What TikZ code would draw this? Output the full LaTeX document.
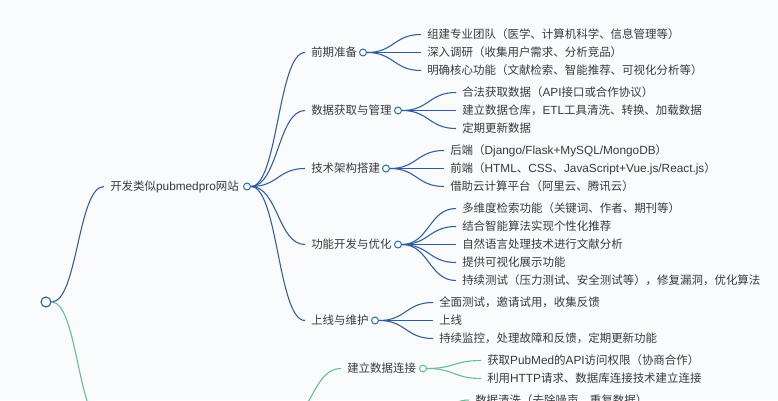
\documentclass[tikz,border=0pt]{standalone}
\usepackage{fontspec}
\usetikzlibrary{calc}
\setmainfont{Noto Sans CJK SC}
\newfontfamily\latfont[Scale=1.03]{Liberation Sans}
\newcommand{\lat}[1]{{\latfont #1}}
\definecolor{bgc}{HTML}{FAFBFD}
\definecolor{bluel}{HTML}{2F5C9E}
\definecolor{bluec}{HTML}{2A6FB0}
\definecolor{greenl}{HTML}{62BE8E}
\definecolor{txt}{HTML}{3A3A3C}
\tikzset{
  x=0.75pt,y=-0.75pt,
  lbl/.style={anchor=west,inner xsep=4.5pt,inner ysep=0pt,text=txt,text height=7.2pt,text depth=1.0pt,font=\fontsize{8.6pt}{10pt}\selectfont},
  dotb/.style={circle,draw=bluec,fill=bgc,line width=0.75pt,minimum size=5.2pt,inner sep=0pt},
  dotg/.style={circle,draw=greenl,fill=bgc,line width=0.75pt,minimum size=5.2pt,inner sep=0pt},
  rootdot/.style={circle,draw=bluel,fill=bgc,line width=0.8pt,minimum size=7.5pt,inner sep=0pt},
  hlink/.style={to path={let \p1=(\tikztostart),\p2=(\tikztotarget) in .. controls ({(\x1+\x2)/2},\y1) and ({(\x1+\x2)/2},\y2) .. (\tikztotarget)}},
  bl/.style={draw=bluel,line width=0.8pt,hlink},
  gl/.style={draw=greenl,line width=0.8pt,hlink},
}
\begin{document}
\begin{tikzpicture}
\path[fill=bgc] (0,0) rectangle (778,400);
\clip (0,0) rectangle (778,400);
\useasboundingbox (0,0) rectangle (778,400);
\node[rootdot] (R) at (46,302) {};
\node[dotb] (Ad) at (247,186.5) {};
\node[dotb] (B1d) at (363,52.5) {};
\node[dotb] (B2d) at (398,110.5) {};
\node[dotb] (B3d) at (386,168.5) {};
\node[dotb] (B4d) at (398,244.5) {};
\node[dotb] (B5d) at (375,320.5) {};
\node[dotg] (G1d) at (423,368.5) {};
\node[lbl] (A) at (104,186.5) {开发类似\lat{pubmedpro}网站};
\node[lbl] (B1) at (305,52.5) {前期准备};
\node[lbl] (B2) at (305,110.5) {数据获取与管理};
\node[lbl] (B3) at (305,168.5) {技术架构搭建};
\node[lbl] (B4) at (305,244.5) {功能开发与优化};
\node[lbl] (B5) at (305,320.5) {上线与维护};
\node[lbl] (G1) at (341,368.5) {建立数据连接};
\node[lbl] (a1) at (421,34.5) {组建专业团队（医学、计算机科学、信息管理等）};
\node[lbl] (a2) at (421,52.5) {深入调研（收集用户需求、分析竞品）};
\node[lbl] (a3) at (421,70.5) {明确核心功能（文献检索、智能推荐、可视化分析等）};
\node[lbl] (b1) at (456,92.5) {合法获取数据（\lat{API}接口或合作协议）};
\node[lbl] (b2) at (456,110.5) {建立数据仓库，\lat{ETL}工具清洗、转换、加载数据};
\node[lbl] (b3) at (456,128.5) {定期更新数据};
\node[lbl] (c1) at (444,150.5) {后端（\lat{Django/Flask+MySQL/MongoDB}）};
\node[lbl] (c2) at (444,168.5) {前端（\lat{HTML}、\lat{CSS}、\lat{JavaScript+Vue.js/React.js}）};
\node[lbl] (c3) at (444,186.5) {借助云计算平台（阿里云、腾讯云）};
\node[lbl] (d1) at (456,208.5) {多维度检索功能（关键词、作者、期刊等）};
\node[lbl] (d2) at (456,226.5) {结合智能算法实现个性化推荐};
\node[lbl] (d3) at (456,244.5) {自然语言处理技术进行文献分析};
\node[lbl] (d4) at (456,262.5) {提供可视化展示功能};
\node[lbl] (d5) at (456,280.5) {持续测试（压力测试、安全测试等），修复漏洞，优化算法};
\node[lbl] (e1) at (433,302.5) {全面测试，邀请试用，收集反馈};
\node[lbl] (e2) at (433,320.5) {上线};
\node[lbl] (e3) at (433,338.5) {持续监控，处理故障和反馈，定期更新功能};
\node[lbl] (f1) at (481,360.5) {获取\lat{PubMed}的\lat{API}访问权限（协商合作）};
\node[lbl] (f2) at (481,378.5) {利用\lat{HTTP}请求、数据库连接技术建立连接};
\node[lbl] (h1) at (469,400) {数据清洗（去除噪声、重复数据）};
\coordinate (gtrunk) at (104,424);
\coordinate (gpar) at (284,420);
\coordinate (hpar) at (422,420);
\draw[bl] (R.east) to (A.west);
\draw[gl] (R.east) to (gtrunk);
\draw[gl] (gpar) to (G1.west);
\draw[gl] (hpar) to (h1.west);
\foreach \c in {B1,B2,B3,B4,B5} \draw[bl] (Ad.east) to (\c.west);
\foreach \c in {a1,a2,a3} \draw[bl] (B1d.east) to (\c.west);
\foreach \c in {b1,b2,b3} \draw[bl] (B2d.east) to (\c.west);
\foreach \c in {c1,c2,c3} \draw[bl] (B3d.east) to (\c.west);
\foreach \c in {d1,d2,d3,d4,d5} \draw[bl] (B4d.east) to (\c.west);
\foreach \c in {e1,e2,e3} \draw[bl] (B5d.east) to (\c.west);
\foreach \c in {f1,f2} \draw[gl] (G1d.east) to (\c.west);
\end{tikzpicture}
\end{document}
